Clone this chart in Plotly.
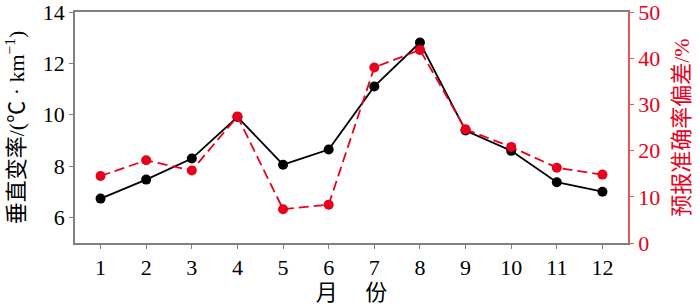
import plotly.graph_objects as go

months = list(range(1, 13))
lapse_rate = [6.73, 7.47, 8.29, 9.91, 8.05, 8.64, 11.10, 12.81, 9.38, 8.59, 7.37, 7.00]
forecast_bias = [14.5, 17.9, 15.7, 27.4, 7.3, 8.3, 38.0, 41.8, 24.6, 20.8, 16.3, 14.8]
x_ticks = [str(m) for m in months]
left_ticks = [6, 8, 10, 12, 14]
right_ticks = [0, 10, 20, 30, 40, 50]

FONT = "Liberation Serif, Times New Roman, Noto Sans CJK SC, serif"
RED = "#e8001c"
AXRED = "#e05a5a"
GREY = "#808080"
FS = 22

fig = go.Figure()
fig.add_trace(go.Scatter(
    x=months, y=lapse_rate, mode="lines+markers",
    line=dict(color="black", width=1.8),
    marker=dict(color="black", size=10),
    yaxis="y", showlegend=False))
fig.add_trace(go.Scatter(
    x=months, y=forecast_bias, mode="lines+markers",
    line=dict(color=RED, width=1.8, dash="10px,5px"),
    marker=dict(color=RED, size=10),
    yaxis="y2", showlegend=False))

fig.update_layout(
    width=700, height=308,
    margin=dict(l=75, r=72, t=12, b=65),
    plot_bgcolor="white", paper_bgcolor="white",
    font=dict(family=FONT, size=FS, color="black"),
    xaxis=dict(
        range=[0.44, 12.56], tickvals=months, ticktext=x_ticks,
        showline=True, linecolor=GREY, linewidth=1.5, mirror=True,
        ticks="outside", ticklen=4, tickcolor=GREY, tickwidth=1,
        showgrid=False, zeroline=False, automargin=False,
        ticklabeloverflow="allow",
        tickfont=dict(family=FONT, size=FS),
        title=dict(text="月　 份", font=dict(family=FONT, size=FS), standoff=2),
    ),
    yaxis=dict(
        range=[5, 14], tickvals=left_ticks,
        showline=True, linecolor=GREY, linewidth=1.5,
        ticks="outside", ticklen=4, tickcolor=GREY, tickwidth=1,
        showgrid=False, zeroline=False, automargin=False,
        ticklabeloverflow="allow",
        tickfont=dict(family=FONT, size=FS),
        title=dict(text="垂直变率/(℃ · km<sup>−1</sup>)", font=dict(family=FONT, size=FS), standoff=12),
    ),
    yaxis2=dict(
        range=[0, 50], tickvals=right_ticks, overlaying="y", side="right",
        showline=True, linecolor=AXRED, linewidth=1.5,
        ticks="outside", ticklen=4, tickcolor=AXRED, tickwidth=1,
        tickfont=dict(color=RED, family=FONT, size=FS),
        showgrid=False, zeroline=False, automargin=False,
        ticklabeloverflow="allow",
        title=dict(text="预报准确率偏差/%", font=dict(family=FONT, size=FS, color=RED), standoff=14),
    ),
)

fig.write_html("out.html")
